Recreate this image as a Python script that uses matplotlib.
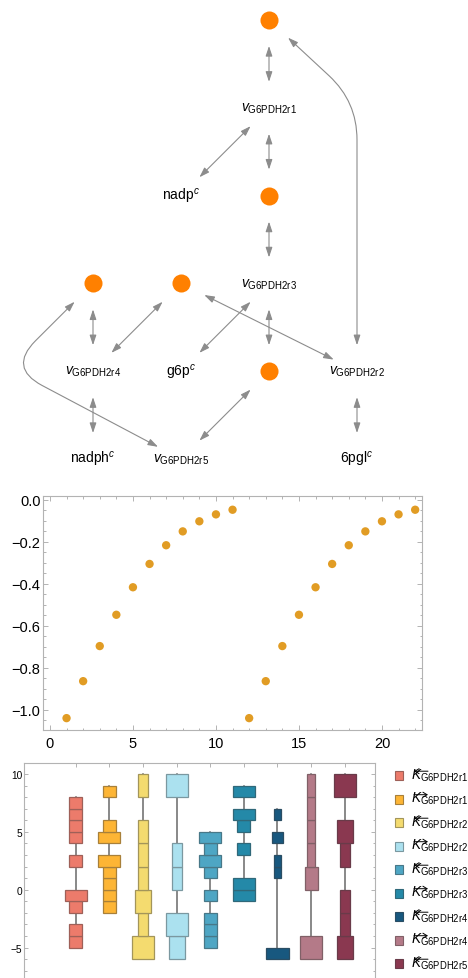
import numpy as np
import matplotlib
matplotlib.use('Agg')
import matplotlib.pyplot as plt
from matplotlib.patches import FancyArrowPatch, Rectangle
from matplotlib.path import Path
from matplotlib.colors import to_rgb
from matplotlib.ticker import MultipleLocator, FixedLocator

plt.rcParams['font.family'] = ['Liberation Sans', 'DejaVu Sans']
plt.rcParams['mathtext.fontset'] = 'custom'
plt.rcParams['mathtext.rm'] = 'Liberation Sans'
plt.rcParams['mathtext.it'] = 'Liberation Sans:italic'
plt.rcParams['mathtext.bf'] = 'Liberation Sans:bold'

W, H = 468, 979

# ---- reaction network (layered layout, grid column/row) ----
node_grid = {
    'm1': (2, 0), 'r1': (2, 1), 'nadp': (1, 2), 'm2': (2, 2), 'r3': (2, 3),
    'mA': (0, 3), 'mB': (1, 3), 'r4': (0, 4), 'g6p': (1, 4), 'mC': (2, 4),
    'r2': (3, 4), 'nadph': (0, 5), 'r5': (1, 5), '6pgl': (3, 5),
}
dot_nodes = ['m1', 'm2', 'mA', 'mB', 'mC']
node_labels = {
    'r1': r'$v_{\mathrm{G6PDH2r1}}$', 'r2': r'$v_{\mathrm{G6PDH2r2}}$',
    'r3': r'$v_{\mathrm{G6PDH2r3}}$', 'r4': r'$v_{\mathrm{G6PDH2r4}}$',
    'r5': r'$v_{\mathrm{G6PDH2r5}}$',
    'nadp': r'$\mathrm{nadp}^{c}$', 'g6p': r'$\mathrm{g6p}^{c}$',
    'nadph': r'$\mathrm{nadph}^{c}$', '6pgl': r'$\mathrm{6pgl}^{c}$',
}
edges = [('m1', 'r1'), ('r1', 'nadp'), ('r1', 'm2'), ('m2', 'r3'),
         ('r3', 'g6p'), ('r3', 'mC'), ('mA', 'r4'), ('mB', 'r4'),
         ('mB', 'r2'), ('r4', 'nadph'), ('r5', 'mC'), ('r2', '6pgl')]
# edges routed around other nodes: (from, to, bend point in grid units)
curved_edges = [('r2', 'm1', (3, 0.93)), ('mA', 'r5', (-0.96, 3.96))]

# ---- list plot ----
x_idx = np.arange(1, 23)
y_vals = [-1.040, -0.864, -0.697, -0.548, -0.417, -0.306, -0.217, -0.151,
          -0.103, -0.070, -0.048,
          -1.040, -0.864, -0.697, -0.548, -0.417, -0.306, -0.217, -0.151,
          -0.103, -0.070, -0.048]

# ---- distribution chart: histogram bins per parameter ----
series_names = [r'$K_{\mathrm{G6PDH2r1}}$', r'$K_{\mathrm{G6PDH2r1}}$',
                r'$K_{\mathrm{G6PDH2r2}}$', r'$K_{\mathrm{G6PDH2r2}}$',
                r'$K_{\mathrm{G6PDH2r3}}$', r'$K_{\mathrm{G6PDH2r3}}$',
                r'$K_{\mathrm{G6PDH2r4}}$', r'$K_{\mathrm{G6PDH2r4}}$',
                r'$K_{\mathrm{G6PDH2r5}}$']
series_dir = ['<-', '->', '<-', '->', '<-', '->', '<-', '->', '<-']
series_colors = ['#EC7B6B', '#FDB535', '#F4DB6F', '#ABE1EF', '#4EA6C4',
                 '#2489A8', '#18587F', '#B47A88', '#8A3850']
bin_start = [-5, -2, -6, -6, -5, -1, -6, -6, -6]
bin_width = [1, 1, 2, 2, 1, 1, 1, 2, 2]
bin_counts = [
    [1, 1, 0, 1, 2, 0, 0, 1, 0, 1, 1, 1, 1],
    [1, 1, 1, 1, 2, 0, 2, 1, 0, 0, 1],
    [3, 1, 2, 1, 1, 1, 0, 1],
    [2, 3, 0, 1, 1, 0, 0, 3],
    [1, 1, 1, 0, 1, 0, 1, 2, 1, 2],
    [2, 2, 0, 0, 1, 0, 1, 2, 0, 2],
    [5, 0, 0, 0, 0, 0, 0, 1, 1, 0, 2, 0, 1],
    [4, 0, 0, 2, 1, 1, 1, 1],
    [2, 1, 1, 0, 1, 2, 0, 3],
]

fig = plt.figure(figsize=(W / 100, H / 100), dpi=100)

# ===== network panel =====
axg = fig.add_axes([0, 1 - 480 / H, 1, 480 / H])
axg.set_xlim(0, W)
axg.set_ylim(480, 0)
axg.axis('off')

X0, DX, Y0, DY = 93, 88, 21, 87.8


def to_px(cr):
    return np.array([X0 + DX * cr[0], Y0 + DY * cr[1]])


pos = {k: to_px(v) for k, v in node_grid.items()}
edge_kw = dict(arrowstyle='<|-|>,head_length=0.6,head_width=0.2',
               mutation_scale=10, color='#8c8c8c', lw=0.8)
shrink_px = 26

for a, b in edges:
    axg.add_patch(FancyArrowPatch(pos[a], pos[b], shrinkA=shrink_px * 0.72,
                                  shrinkB=shrink_px * 0.72, **edge_kw))


def rounded_path(pts, r):
    pts = [np.asarray(p, float) for p in pts]
    d0 = pts[1] - pts[0]
    pts[0] = pts[0] + d0 / np.hypot(*d0) * shrink_px
    d1 = pts[-2] - pts[-1]
    pts[-1] = pts[-1] + d1 / np.hypot(*d1) * shrink_px
    verts, codes = [pts[0]], [Path.MOVETO]
    for i in range(1, len(pts) - 1):
        p = pts[i]
        u1 = (pts[i - 1] - p) / np.hypot(*(pts[i - 1] - p))
        u2 = (pts[i + 1] - p) / np.hypot(*(pts[i + 1] - p))
        verts += [p + u1 * r, p, p + u2 * r]
        codes += [Path.LINETO, Path.CURVE3, Path.CURVE3]
    verts.append(pts[-1])
    codes.append(Path.LINETO)
    return Path(verts, codes)


for a, b, bend in curved_edges:
    pth = rounded_path([pos[a], to_px(bend), pos[b]], 38)
    axg.add_patch(FancyArrowPatch(path=pth, **edge_kw))

for k in dot_nodes:
    axg.plot(*pos[k], 'o', ms=13, color='#FF8000', mec='none', zorder=3)
for k, lab in node_labels.items():
    axg.text(pos[k][0], pos[k][1], lab, ha='center', va='center',
             fontsize=10, color='black')

# ===== list plot panel =====
frame_col = '#b3b3b3'
ax2 = fig.add_axes([43.3 / W, (H - 731) / H, 379 / W, 233.7 / H])
ax2.scatter(x_idx, y_vals, s=36, color=(0.880722, 0.611041, 0.142051),
            edgecolors='none', zorder=3)
ax2.set_xlim(-0.40, 22.43)
ax2.set_ylim(-1.0965, 0.016)
ax2.xaxis.set_major_locator(MultipleLocator(5))
ax2.xaxis.set_minor_locator(MultipleLocator(1))
ax2.yaxis.set_major_locator(MultipleLocator(0.2))
ax2.yaxis.set_minor_locator(MultipleLocator(0.05))
ax2.yaxis.set_major_formatter(plt.FuncFormatter(
    lambda v, p: f'{v:.1f}'.replace('-', '\u2212') if abs(v) > 1e-9 else '0.0'))
for s in ax2.spines.values():
    s.set_color(frame_col)
    s.set_linewidth(0.8)
ax2.tick_params(which='both', direction='in', top=True, right=True,
                color=frame_col, width=0.7, labelsize=10.5)
ax2.tick_params(which='major', length=3.5)
ax2.tick_params(which='minor', length=1.8)
ax2.tick_params(axis='y', pad=2)
ax2.tick_params(axis='x', pad=4)

# ===== distribution chart panel =====
ax3 = fig.add_axes([24.3 / W, -4.3 / H, 350.7 / W, 219 / H])
w_min, w_max = 0.12, 0.655


def darker(c, f=0.45):
    r, g, b = to_rgb(c)
    return (r * (1 - f) + 0.25 * f, g * (1 - f) + 0.25 * f, b * (1 - f) + 0.25 * f)


for i, counts in enumerate(bin_counts):
    xc = i + 1
    counts = np.array(counts)
    lows = bin_start[i] + bin_width[i] * np.arange(len(counts))
    nz = counts > 0
    ax3.plot([xc, xc], [lows[nz].min(), lows[nz].max() + bin_width[i]],
             color='#686868', lw=1.1, zorder=1)
    widths = w_min + (w_max - w_min) * counts[nz] / counts.max()
    ax3.bar(np.full(nz.sum(), xc), bin_width[i], width=widths,
            bottom=lows[nz], color=series_colors[i],
            edgecolor=darker(series_colors[i]), linewidth=0.9, zorder=2)

ax3.set_xlim(-0.53, 9.9)
ax3.set_ylim(-8, 10.93)
ax3.xaxis.set_major_locator(FixedLocator(range(1, 10)))
ax3.set_xticklabels([])
ax3.yaxis.set_major_locator(MultipleLocator(5))
ax3.yaxis.set_minor_locator(MultipleLocator(1))
for s in ax3.spines.values():
    s.set_color(frame_col)
    s.set_linewidth(0.8)
ax3.tick_params(which='both', direction='in', top=True, right=True,
                color=frame_col, width=0.7, labelsize=7.3, pad=1.5)
ax3.tick_params(which='major', length=3)
ax3.tick_params(which='minor', length=1.8)
ax3.tick_params(axis='x', which='minor', length=0)

# legend: swatch, label, and the direction arrow over the subscript
for i, (name, col, d) in enumerate(zip(series_names, series_colors, series_dir)):
    yc = 776.7 + 23.5 * i
    fig.patches.append(Rectangle(((399 - 4.3) / W, 1 - (yc + 4.3) / H),
                                 8.6 / W, 8.6 / H, transform=fig.transFigure,
                                 facecolor=col, edgecolor=darker(col),
                                 linewidth=0.8))
    fig.text(411 / W, 1 - (yc + 2.6) / H, name, ha='left', va='baseline',
             fontsize=9.8)
    fig.patches.append(FancyArrowPatch(
        (414 / W, 1 - (yc - 4.5) / H), (428 / W, 1 - (yc - 4.5) / H),
        transform=fig.transFigure, arrowstyle=d + ',head_length=0.3,head_width=0.18',
        mutation_scale=10, color='black', lw=0.7, shrinkA=0, shrinkB=0))

fig.savefig('out.png', dpi=100)
